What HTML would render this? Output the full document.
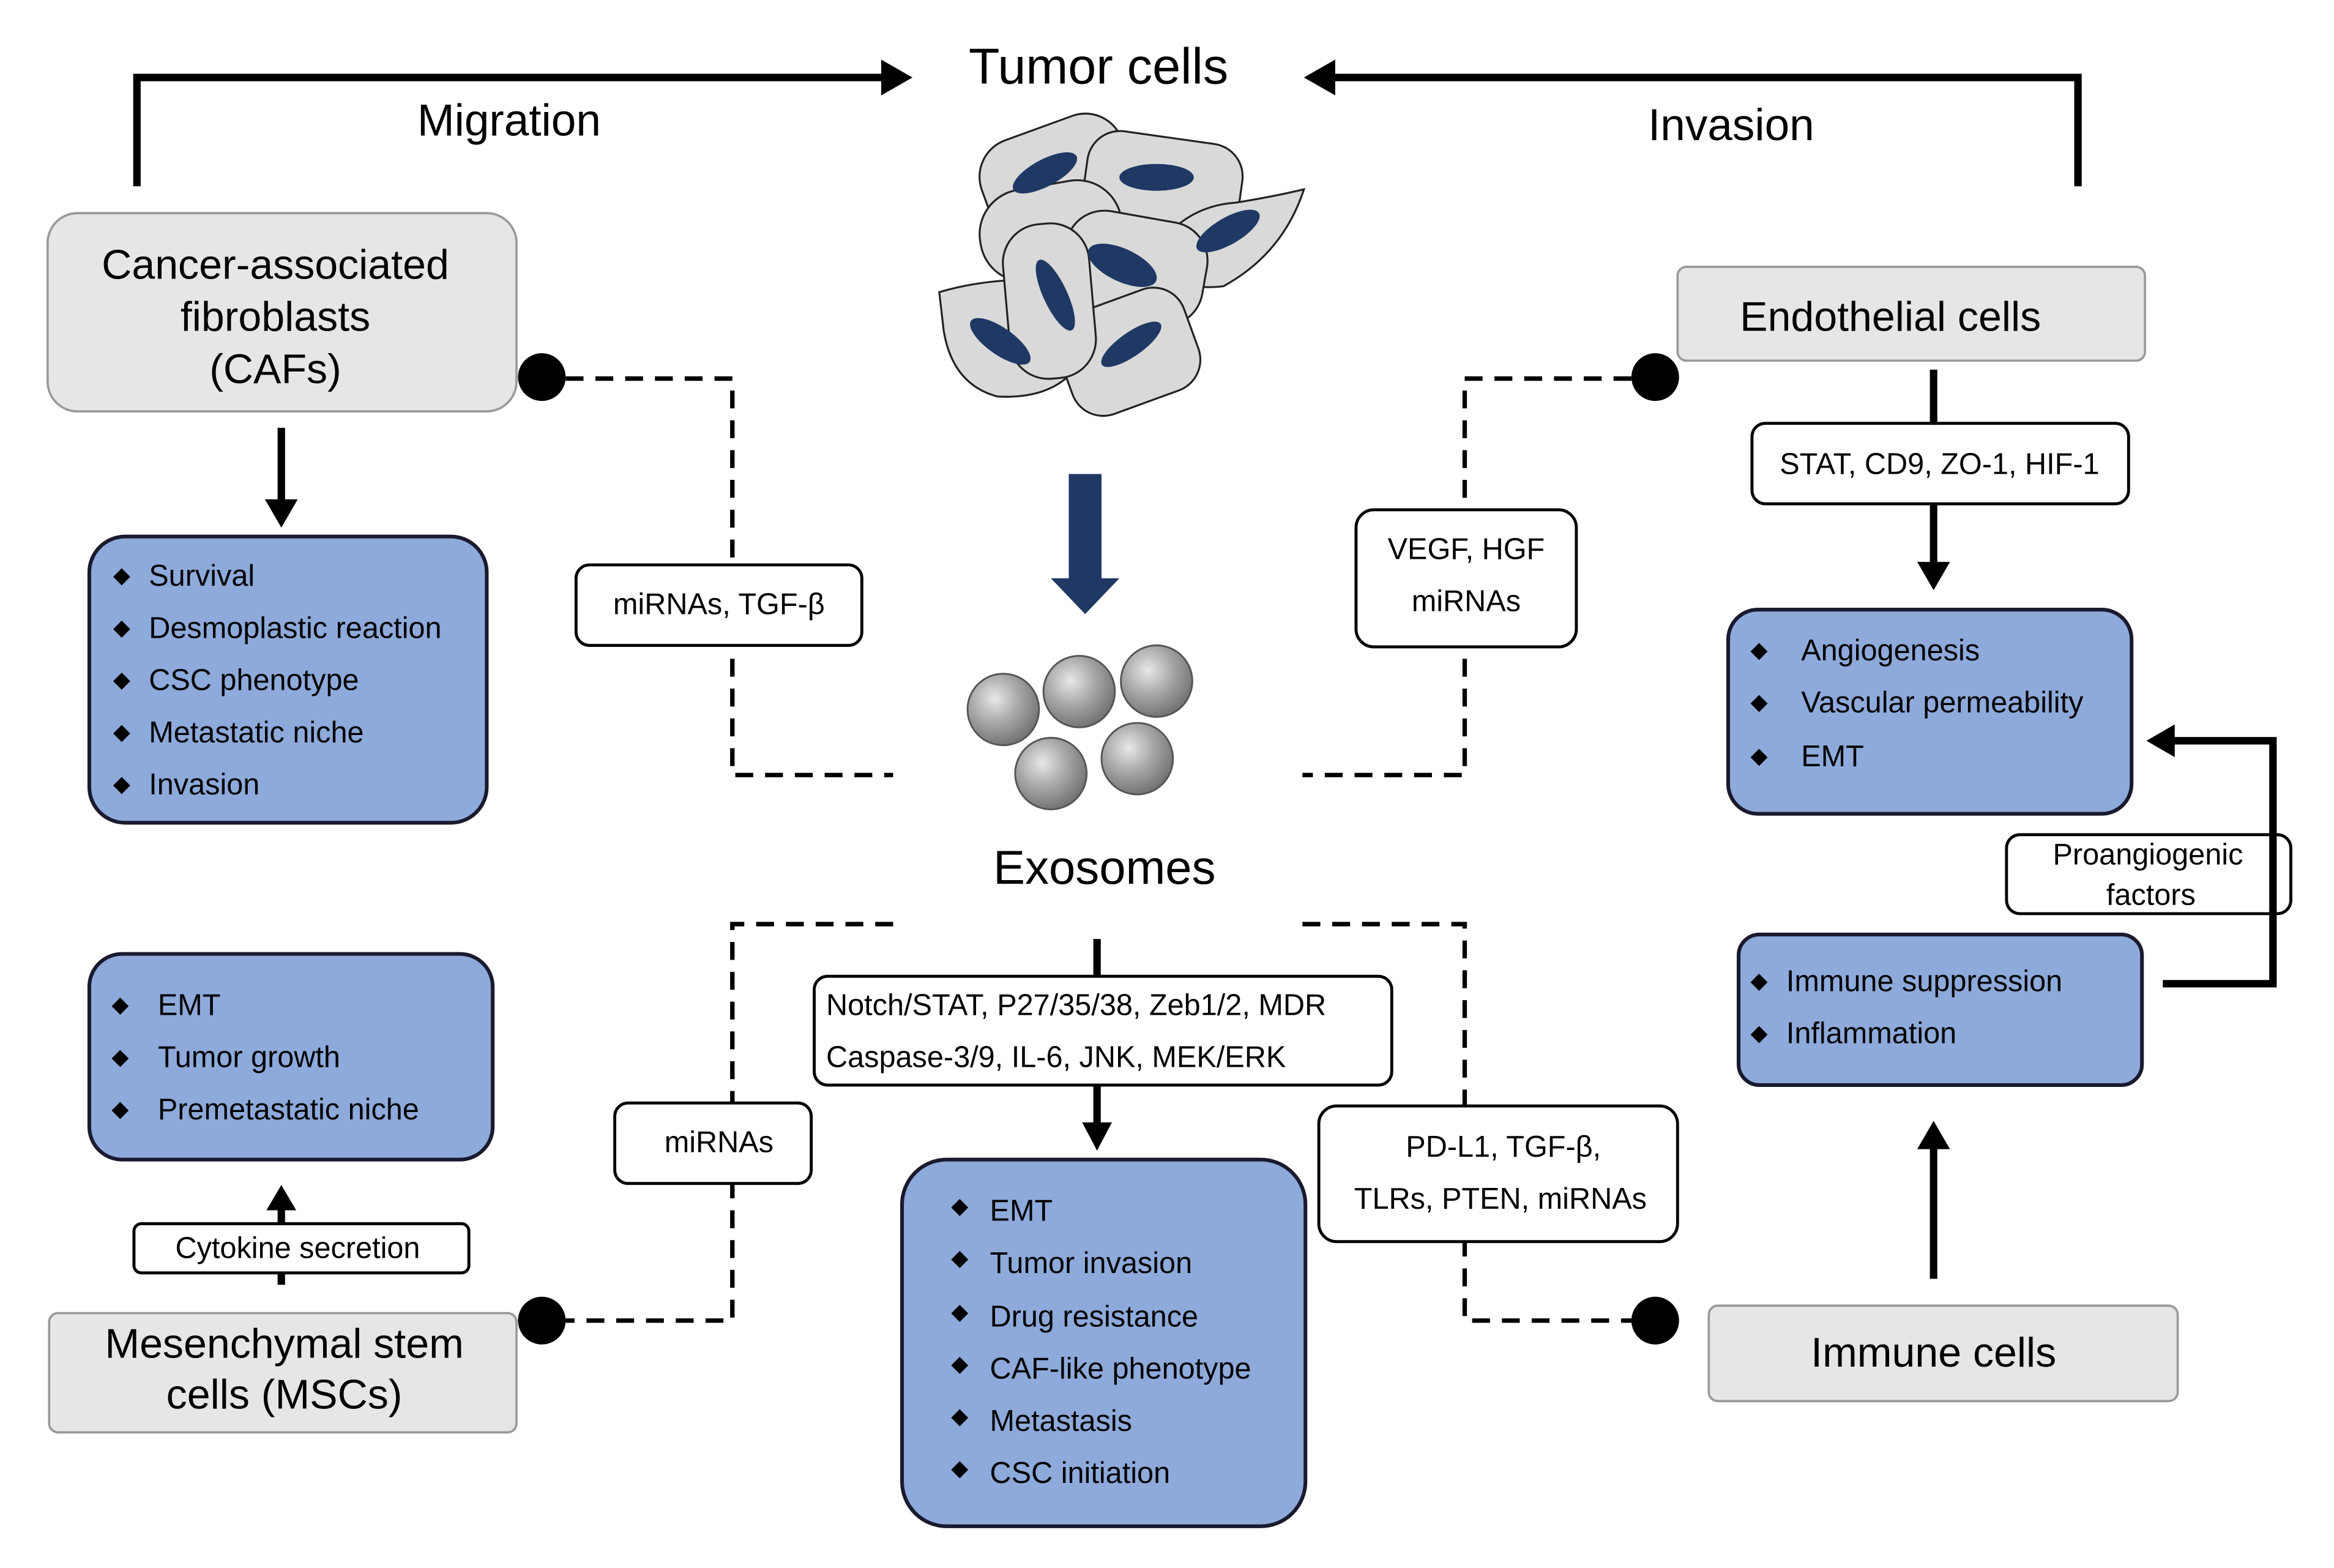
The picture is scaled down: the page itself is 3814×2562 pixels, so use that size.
<!DOCTYPE html>
<html><head><meta charset="utf-8"><style>
html,body{margin:0;padding:0;background:#fff;}
svg{display:block;}
text{font-family:"Liberation Sans",Arial,sans-serif;fill:#000;}
</style></head><body>
<svg width="3814" height="2562" viewBox="0 0 1568 1052" preserveAspectRatio="none" xmlns="http://www.w3.org/2000/svg">
<defs>
<radialGradient id="sp" cx="0.38" cy="0.35" r="0.7">
<stop offset="0" stop-color="#e8e8e8"/><stop offset="0.5" stop-color="#a6a6a6"/><stop offset="1" stop-color="#6e6e6e"/>
</radialGradient>
</defs>
<rect width="1568" height="1052" fill="#fff"/>

<polyline points="92,125 92,52 596,52" fill="none" stroke="#000" stroke-width="5"/>
<path d="M592,40 L613,52 L592,64 Z" fill="#000"/>
<polyline points="1396,125 1396,52 894,52" fill="none" stroke="#000" stroke-width="5"/>
<path d="M897,40 L876,52 L897,64 Z" fill="#000"/>
<text x="738" y="56" font-size="34" text-anchor="middle">Tumor cells</text>
<text x="342" y="91" font-size="30" text-anchor="middle">Migration</text>
<text x="1163" y="94" font-size="30" text-anchor="middle">Invasion</text>

<g stroke="#222" stroke-width="1.3" fill="#d9d9d9">
<rect x="659" y="84" width="100" height="66" rx="26" transform="rotate(-20 709 117)"/>
<rect x="729" y="92" width="105" height="60" rx="22" transform="rotate(8 781 122)"/>
<rect x="658" y="124" width="96" height="62" rx="30" transform="rotate(-10 706 155)"/>
<path d="M780,162 Q800,138 830,136 Q855,132 876,127 Q862,170 822,192 Q792,196 778,176 Z"/>
<rect x="714" y="145" width="96" height="70" rx="26" transform="rotate(10 762 180)"/>
<path d="M631,196 Q665,186 705,188 L722,248 Q705,268 670,266 Q640,258 634,222 Z"/>
<rect x="713" y="200" width="90" height="72" rx="22" transform="rotate(-20 758 236)"/>
<rect x="676" y="150" width="58" height="104" rx="26" transform="rotate(-5 705 202)"/>
</g>
<g fill="#1f3864">
<ellipse cx="702" cy="116" rx="24" ry="9" transform="rotate(-28 702 116)"/>
<ellipse cx="777" cy="119" rx="25" ry="9"/>
<ellipse cx="825" cy="155" rx="24" ry="9" transform="rotate(-30 825 155)"/>
<ellipse cx="754" cy="178" rx="25" ry="11" transform="rotate(25 754 178)"/>
<ellipse cx="672" cy="229" rx="24" ry="9" transform="rotate(35 672 229)"/>
<ellipse cx="760" cy="231" rx="24" ry="8" transform="rotate(-35 760 231)"/>
<ellipse cx="709" cy="198" rx="26" ry="8" transform="rotate(65 709 198)"/>
</g>

<path d="M718,318 L740,318 L740,388 L752,388 L729,412 L706,388 L718,388 Z" fill="#1f3864"/>

<g stroke="#555" stroke-width="1.2" fill="url(#sp)">
<circle cx="674" cy="476" r="24"/><circle cx="725" cy="464" r="24"/><circle cx="777" cy="457" r="24"/>
<circle cx="706" cy="519" r="24"/><circle cx="764" cy="509" r="24"/>
</g>
<text x="742" y="593" font-size="32" text-anchor="middle">Exosomes</text>

<g fill="none" stroke="#000" stroke-width="3" stroke-dasharray="12,8">
<polyline points="380,254 492,254 492,520 600,520"/>
<polyline points="1096,254 984,254 984,520 875,520"/>
<polyline points="600,620 492,620 492,886 380,886"/>
<polyline points="875,620 984,620 984,886 1096,886"/>
</g>
<g fill="#000"><circle cx="364" cy="253" r="16"/><circle cx="1112" cy="253" r="16"/><circle cx="364" cy="886" r="16"/><circle cx="1112" cy="886" r="16"/></g>

<g fill="#fff" stroke="#000" stroke-width="2">
<rect x="387" y="379" width="192" height="54" rx="9"/>
<rect x="911" y="342" width="148" height="92" rx="12"/>
<rect x="413" y="740" width="132" height="54" rx="9"/>
<rect x="886" y="742" width="241" height="91" rx="12"/>
<rect x="1177" y="284" width="253" height="54" rx="9"/>
<rect x="1348" y="560" width="191" height="53" rx="9"/>
<rect x="90" y="821" width="225" height="33" rx="5"/>
<rect x="547" y="655" width="388" height="73" rx="9"/>
</g>
<g font-size="20" text-anchor="middle">
<text x="483" y="412">miRNAs, TGF-β</text>
<text x="985" y="375">VEGF, HGF</text><text x="985" y="410">miRNAs</text>
<text x="483" y="773">miRNAs</text>
<text x="1010" y="776">PD-L1, TGF-β,</text><text x="1008" y="811">TLRs, PTEN, miRNAs</text>
<text x="1303" y="318">STAT, CD9, ZO-1, HIF-1</text>
<text x="1443" y="580">Proangiogenic</text><text x="1445" y="607">factors</text>
<text x="200" y="844">Cytokine secretion</text>
</g>
<g font-size="20"><text x="555" y="681">Notch/STAT, P27/35/38, Zeb1/2, MDR</text><text x="555" y="716">Caspase-3/9, IL-6, JNK, MEK/ERK</text></g>

<g fill="#e6e6e6" stroke="#999" stroke-width="1.5">
<rect x="32" y="143" width="315" height="133" rx="20"/>
<rect x="1127" y="179" width="314" height="63" rx="6"/>
<rect x="1148" y="876" width="315" height="64" rx="6"/>
<rect x="33" y="881" width="314" height="80" rx="6"/>
</g>
<g font-size="28" text-anchor="middle">
<text x="185" y="187">Cancer-associated</text><text x="185" y="222">fibroblasts</text><text x="185" y="257">(CAFs)</text>
<text x="1270" y="222">Endothelial cells</text>
<text x="1299" y="917">Immune cells</text>
<text x="191" y="911">Mesenchymal stem</text><text x="191" y="945">cells (MSCs)</text>
</g>

<g stroke="#000" stroke-width="5" fill="none">
<line x1="189" y1="287" x2="189" y2="338"/>
<line x1="1299" y1="248" x2="1299" y2="285"/>
<line x1="1299" y1="338" x2="1299" y2="380"/>
<line x1="1299" y1="858" x2="1299" y2="768"/>
<line x1="189" y1="821" x2="189" y2="808"/>
<line x1="189" y1="854" x2="189" y2="862"/>
<line x1="737" y1="630" x2="737" y2="655"/>
<line x1="737" y1="728" x2="737" y2="756"/>
<polyline points="1453,660 1527,660 1527,497 1458,497"/>
</g>
<g fill="#000">
<path d="M178,335 L200,335 L189,354 Z"/>
<path d="M1288,377 L1310,377 L1299,396 Z"/>
<path d="M1288,771 L1310,771 L1299,752 Z"/>
<path d="M179,812 L199,812 L189,795 Z"/>
<path d="M727,753 L747,753 L737,772 Z"/>
<path d="M1461,486 L1461,508 L1442,497 Z"/>
</g>

<g fill="#8eaadb" stroke="#1a1a2e" stroke-width="2.5">
<rect x="60" y="360" width="267" height="192" rx="24"/>
<rect x="1161" y="409" width="271" height="137" rx="20"/>
<rect x="1168" y="627" width="271" height="101" rx="14"/>
<rect x="606" y="778" width="271" height="246" rx="30"/>
<rect x="60" y="640" width="271" height="138" rx="22"/>
</g>
<g font-size="15">
<text x="76" y="391">◆</text><text x="76" y="426">◆</text><text x="76" y="461">◆</text><text x="76" y="496">◆</text><text x="76" y="531">◆</text>
<text x="1176" y="441">◆</text><text x="1176" y="476">◆</text><text x="1176" y="512">◆</text>
<text x="1176" y="663">◆</text><text x="1176" y="698">◆</text>
<text x="639" y="814">◆</text><text x="639" y="849">◆</text><text x="639" y="885">◆</text><text x="639" y="920">◆</text><text x="639" y="955">◆</text><text x="639" y="990">◆</text>
<text x="75" y="679">◆</text><text x="75" y="714">◆</text><text x="75" y="749">◆</text>
</g>
<g font-size="20">
<text x="100" y="393">Survival</text>
<text x="100" y="428">Desmoplastic reaction</text>
<text x="100" y="463">CSC phenotype</text>
<text x="100" y="498">Metastatic niche</text>
<text x="100" y="533">Invasion</text>
<text x="1210" y="443">Angiogenesis</text>
<text x="1210" y="478">Vascular permeability</text>
<text x="1210" y="514">EMT</text>
<text x="1200" y="665">Immune suppression</text>
<text x="1200" y="700">Inflammation</text>
<text x="665" y="819">EMT</text>
<text x="665" y="854">Tumor invasion</text>
<text x="665" y="890">Drug resistance</text>
<text x="665" y="925">CAF-like phenotype</text>
<text x="665" y="960">Metastasis</text>
<text x="665" y="995">CSC initiation</text>
<text x="106" y="681">EMT</text>
<text x="106" y="716">Tumor growth</text>
<text x="106" y="751">Premetastatic niche</text>
</g>
</svg>
</body></html>
